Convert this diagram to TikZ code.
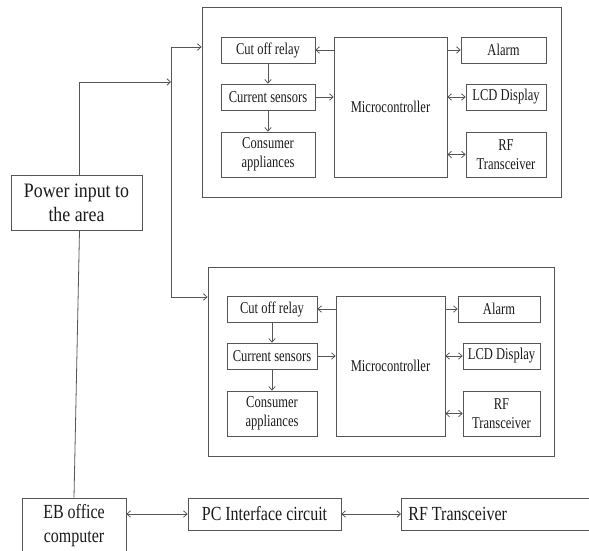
\documentclass[tikz,border=0pt]{standalone}
\usepackage{fontspec}
\setmainfont{Liberation Serif}
\newfontfamily\innerfont[FakeStretch=0.76]{Liberation Serif}
\newfontfamily\outerfont[FakeStretch=0.8]{Liberation Serif}
\newfontfamily\powerfont[FakeStretch=0.87]{Liberation Serif}
\usetikzlibrary{arrows.meta}
\definecolor{linegray}{HTML}{555555}
\definecolor{inktext}{HTML}{1A1A1A}

\tikzset{
  unitframe/.style={draw=linegray, line width=0.9pt, inner sep=0pt},
  blk/.style={draw=linegray, line width=0.8pt, inner sep=1pt, align=center,
    text=inktext, font={\innerfont\fontsize{16.5}{19}\selectfont}},
  bigblk/.style={draw=linegray, line width=0.8pt, inner sep=1pt, align=center,
    text=inktext, font={\outerfont\fontsize{20}{24}\selectfont}},
  wire/.style={draw=linegray, line width=0.8pt},
  link/.style={wire, -{Straight Barb[length=3.5pt,width=6.5pt]}},
  dlink/.style={wire, {Straight Barb[length=3.5pt,width=6.5pt]}-{Straight Barb[length=3.5pt,width=6.5pt]}},
}

\begin{document}
\begin{tikzpicture}[x=1pt,y=-1pt]
\useasboundingbox (0,0) rectangle (589,551);

% ---- upper monitoring unit ----
\node[unitframe, minimum width=359pt, minimum height=190pt] (upper) at (381.5,102) {};
\node[blk, minimum width=94pt, minimum height=26pt] (relayA) at (268,50) {Cut off relay};
\node[blk, minimum width=94pt, minimum height=26pt] (curA) at (268,97) {Current sensors};
\node[blk, minimum width=94pt, minimum height=45pt] (consA) at (268,154.5) {Consumer\\appliances};
\node[blk, minimum width=113pt, minimum height=140pt] (mcA) at (390.5,107) {Microcontroller};
\node[blk, minimum width=85pt, minimum height=26pt] (alarmA) at (503.5,50) {Alarm};
\node[blk, minimum width=80pt, minimum height=26pt] (lcdA) at (506,97) {LCD Display};
\node[blk, minimum width=80pt, minimum height=45pt] (rfA) at (506,154.5) {RF\\Transceiver};

\draw[link] (mcA.west |- relayA) -- (relayA.east);
\draw[link] (relayA) -- (curA);
\draw[link] (curA) -- (consA);
\draw[link] (curA.east) -- (curA.east -| mcA.west);
\draw[link] (mcA.east |- alarmA) -- (alarmA.west);
\draw[dlink] (mcA.east |- lcdA) -- (lcdA.west);
\draw[dlink] (mcA.east |- rfA) -- (rfA.west);

% ---- lower monitoring unit ----
\node[unitframe, minimum width=346pt, minimum height=189pt] (lower) at (381,361.5) {};
\node[blk, minimum width=90pt, minimum height=26pt] (relayB) at (272,309) {Cut off relay};
\node[blk, minimum width=90pt, minimum height=26pt] (curB) at (272,356) {Current sensors};
\node[blk, minimum width=90pt, minimum height=45pt] (consB) at (272,413.5) {Consumer\\appliances};
\node[blk, minimum width=109pt, minimum height=140pt] (mcB) at (390.5,366) {Microcontroller};
\node[blk, minimum width=82pt, minimum height=26pt] (alarmB) at (499,309) {Alarm};
\node[blk, minimum width=77pt, minimum height=26pt] (lcdB) at (501.5,356) {LCD Display};
\node[blk, minimum width=77pt, minimum height=45pt] (rfB) at (501.5,413.5) {RF\\Transceiver};

\draw[link] (mcB.west |- relayB) -- (relayB.east);
\draw[link] (relayB) -- (curB);
\draw[link] (curB) -- (consB);
\draw[link] (curB.east) -- (curB.east -| mcB.west);
\draw[link] (mcB.east |- alarmB) -- (alarmB.west);
\draw[dlink] (mcB.east |- lcdB) -- (lcdB.west);
\draw[dlink] (mcB.east |- rfB) -- (rfB.west);

% ---- power feed ----
\node[bigblk, font={\powerfont\fontsize{20.5}{24}\selectfont},
      minimum width=131pt, minimum height=55pt] (pw) at (76.5,202.5) {Power input to\\the area};
\coordinate (busT) at (171,47);
\coordinate (busM) at (171,82);
\coordinate (busB) at (171,297);
\draw[wire] (busT) -- (busB);
\draw[link] ([xshift=3pt]pw.north) |- (busM);
\draw[link] (busT) -- (busT -| upper.west);
\draw[link] (busB) -- (busB -| lower.west);

% ---- EB office link ----
\node[bigblk, minimum width=104pt, minimum height=56pt] (eb) at (74,526) {EB office\\computer};
\node[bigblk, minimum width=153pt, minimum height=32pt] (pc) at (264.5,514) {PC Interface circuit};
\node[bigblk, anchor=west, text width=185pt, align=flush left, inner xsep=7pt,
      minimum height=32pt] (rfc) at (401,514) {RF Transceiver};
\draw[wire] ([xshift=3pt]pw.south) -- (eb.north);
\draw[dlink] (eb.east |- pc) -- (pc.west);
\draw[dlink] (pc.east) -- (rfc.west);
\end{tikzpicture}
\end{document}
